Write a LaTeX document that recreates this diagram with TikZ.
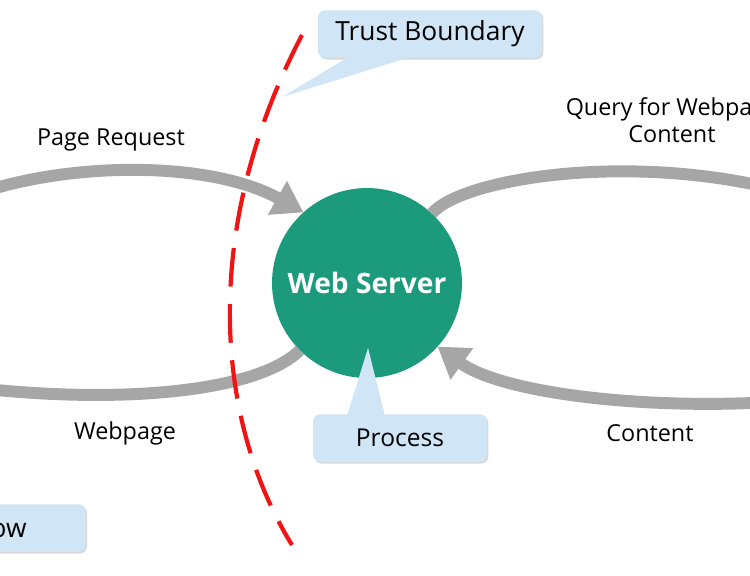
\documentclass[tikz,border=0pt]{standalone}
\usepackage{fontspec}
\setmainfont{Open Sans}
\usetikzlibrary{arrows.meta,calc,positioning,shadows}
\definecolor{srvteal}{RGB}{27,154,124}
\definecolor{callblue}{RGB}{208,229,245}
\definecolor{flowgray}{RGB}{166,166,166}
\definecolor{tbred}{RGB}{240,20,20}

\begin{document}
\begin{tikzpicture}[x=0.02cm, y=-0.02cm,
  every node/.style={font=\fontsize{13.3}{15.5}\selectfont},
  flow/.style={draw=flowgray, line width=6.8pt, -{Triangle[length=17pt,width=21pt]}},
  callbox/.style={fill=callblue, rounded corners=4pt, minimum height=0.95cm,
    font=\fontsize{15}{18}\selectfont,
    drop shadow={shadow xshift=0.8pt, shadow yshift=-1pt, opacity=0.3}},
  pointer/.style={fill=callblue},
  boundary/.style={draw=tbred, line width=2.4pt, dash pattern=on 22pt off 10pt}]
  \useasboundingbox (0,0) rectangle (750,575);
  \clip (0,0) rectangle (750,575);

  % process
  \node[circle, fill=srvteal, minimum size=3.8cm, inner sep=0pt, outer sep=0pt, text=white,
    font=\fontsize{16}{19}\selectfont\bfseries] (server) at (367,283) {Web Server};

  % data flows
  \coordinate (usrin) at (-40,200);
  \coordinate (usrout) at (-50,385);
  \coordinate (dbin) at (800,195);
  \coordinate (dbout) at (800,400);
  \draw[flow] (usrin) .. controls (60,160) and (210,160) .. (server.132);
  \draw[flow] (server.225) .. controls (260,390) and (130,405) .. (usrout);
  \draw[flow] (server.47) .. controls (460,180) and (620,152) .. (dbin);
  \draw[flow] (dbout) .. controls (660,412) and (505,395) .. (server.318);
  \node (lblreq) at (111,140) {Page Request};
  \node (lblpage) at (125,433) {Webpage};
  \node[align=center] (lblquery) at (672,120) {Query for Webpage\\Content};
  \node (lblcontent) at (650,433) {Content};

  % trust boundary
  \draw[boundary] (302,35) .. controls (200,230) and (215,420) .. (292,545);

  % callouts
  \coordinate (tbtip) at (282,97);
  \coordinate (proctip) at (368,348);
  \node[callbox, minimum width=4.48cm] (tb) at (430,34) {Trust Boundary};
  \fill[pointer] ($(tb.south)+(-80,-2)$) -- (tbtip) -- ($(tb.south)+(-17,-2)$) -- cycle;
  \node[callbox, minimum width=3.48cm, font=\fontsize{14}{17}\selectfont] (proc) at (400,438) {Process};
  \fill[pointer] ($(proc.north)+(-53,2)$) -- (proctip) -- ($(proc.north)+(-15,2)$) -- cycle;
  \node[callbox, anchor=east, inner xsep=1.18cm] (df) at (86,528) {Data Flow};
\end{tikzpicture}
\end{document}
